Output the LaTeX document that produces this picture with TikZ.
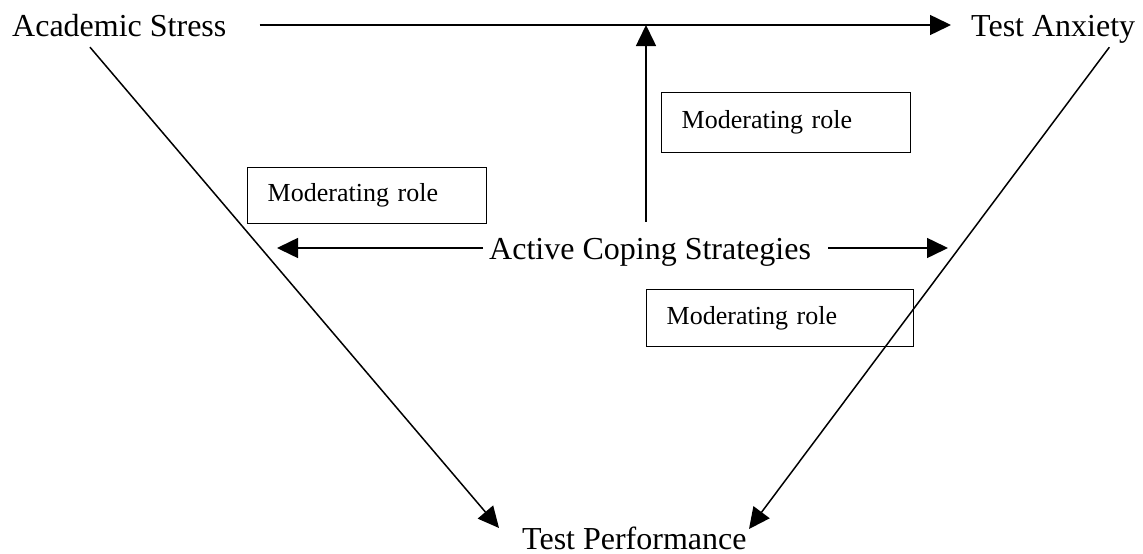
\documentclass[tikz,border=0pt]{standalone}
\usepackage{fontspec}
\setmainfont{Liberation Serif}
\usetikzlibrary{arrows.meta}
\begin{document}
\begin{tikzpicture}[x=1pt,y=-1pt,
  lab/.style={inner sep=0pt, text height=22pt, text depth=0pt, font=\fontsize{32}{38}\selectfont},
  modbox/.style={draw, line width=1.4pt, anchor=north west, align=left, inner xsep=20pt, inner ysep=0pt,
     font=\fontsize{26}{31}\selectfont},
  arr/.style={line width=1.5pt, -{Triangle[length=21pt,width=20pt]}}]
\useasboundingbox (0,0) rectangle (1143,554);
% labels
\node[lab, anchor=west] (stress) at (12,25) {Academic Stress};
\node[lab, anchor=west] (anxiety) at (971,25) {Test Anxiety};
\node[lab, anchor=west] (coping) at (489,248) {Active Coping Strategies};
\node[lab, anchor=west] (perf) at (522,538) {Test Performance};
% boxes
\node[modbox, text width=199pt, minimum height=56pt] (m1) at (247,167) {Moderating role};
\node[modbox, text width=209pt, minimum height=60pt] (m2) at (661,92) {Moderating role};
\node[modbox, text width=227pt, minimum height=57pt] (m3) at (646,289) {Moderating role};
% free ends
\coordinate (vt) at (646,25);
\coordinate (lt) at (277,248);
\coordinate (rt) at (948,248);
\coordinate (dl) at (499,528);
\coordinate (dr) at (749,529);
% connectors
\draw[arr, shorten <=33pt, shorten >=20pt] (stress) -- (anxiety);
\draw[arr, shorten <=15pt] (coping.north -| vt) -- (vt);
\draw[arr, shorten <=6pt] (coping.west) -- (lt);
\draw[arr, shorten <=17pt] (coping.east) -- (rt);
\draw[arr] ([xshift=78pt,yshift=-11pt]stress.south west) -- (dl);
\draw[arr] ([xshift=-26pt,yshift=-11pt]anxiety.south east) -- (dr);
\end{tikzpicture}
\end{document}
